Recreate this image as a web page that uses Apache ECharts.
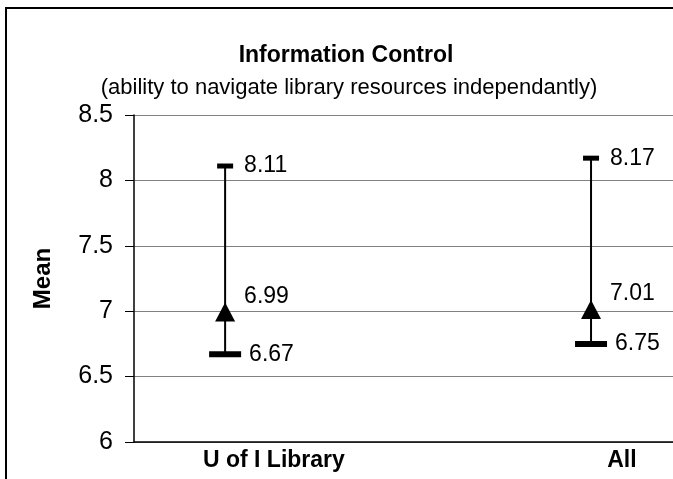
<!DOCTYPE html>
<html>
<head>
<meta charset="utf-8">
<script src="https://cdn.jsdelivr.net/npm/echarts@6/dist/echarts.min.js"></script>
<style>
  html, body { margin: 0; padding: 0; background: #fff; overflow: hidden; }
  #main { width: 673px; height: 479px; }
</style>
</head>
<body>
<div id="main"></div>
<script>
// categories and values
var categories = ['U of I Library', 'All']
var lowValues = [6.67, 6.75]
var highValues = [8.11, 8.17]
var meanValues = [6.99, 7.01]
var yTicks = { min: 6, max: 8.5, interval: 0.5 }

var font = '"Liberation Sans", Arial, sans-serif'

var rows = categories.map(function (c, i) {
  return [i, lowValues[i], highValues[i], meanValues[i]]
})

var myChart = echarts.init(document.getElementById('main'))

var option = {
  animation: false,
  backgroundColor: '#fff',
  graphic: [
    {
      type: 'rect',
      shape: { x: 6, y: 8, width: 800, height: 600 },
      style: { fill: 'none', stroke: '#000', lineWidth: 2 },
      z: -1,
    },
  ],
  title: [
    {
      text: 'Information Control',
      left: 341,
      top: 39,
      textAlign: 'center',
      textStyle: { fontFamily: font, fontSize: 23, fontWeight: 'bold', color: '#000' },
    },
    {
      text: '(ability to navigate library resources independantly)',
      left: 344,
      top: 72,
      textAlign: 'center',
      textStyle: { fontFamily: font, fontSize: 22, fontWeight: 'normal', color: '#000' },
    },
  ],
  grid: { left: 134, top: 115, right: 0, bottom: 37 },
  xAxis: [
    {
      // positions of the marks
      type: 'value',
      min: -0.249,
      max: 1.224,
      show: false,
    },
    {
      // category labels
      type: 'value',
      min: -0.402,
      max: 1.147,
      position: 'bottom',
      axisLine: { show: true, onZero: false, lineStyle: { color: '#000', width: 1.5 } },
      axisTick: { show: false },
      splitLine: { show: false },
      axisLabel: {
        customValues: [0, 1],
        formatter: function (v) {
          return categories[Math.round(v)]
        },
        margin: 7,
        color: '#000',
        fontFamily: font,
        fontSize: 23,
        fontWeight: 'bold',
      },
    },
  ],
  yAxis: {
    type: 'value',
    min: yTicks.min,
    max: yTicks.max,
    interval: yTicks.interval,
    name: 'Mean',
    nameLocation: 'middle',
    nameGap: 79,
    nameTextStyle: { fontFamily: font, fontSize: 24, fontWeight: 'bold', color: '#000' },
    axisLine: { show: true, onZero: false, lineStyle: { color: '#000', width: 1.5 } },
    axisTick: { show: true, length: 9, lineStyle: { color: '#000' } },
    axisLabel: { margin: 21, color: '#000', fontFamily: font, fontSize: 25 },
    splitLine: { show: true, lineStyle: { color: '#808080', width: 1.2 } },
  },
  series: [
    {
      type: 'custom',
      xAxisIndex: 0,
      encode: { x: 0, y: [1, 2, 3] },
      data: rows,
      renderItem: function (params, api) {
        var x = api.value(0)
        var low = api.value(1)
        var high = api.value(2)
        var mean = api.value(3)
        var pH = api.coord([x, high])
        var pL = api.coord([x, low])
        var pM = api.coord([x, mean])
        var txt = function (s, px, py) {
          return {
            type: 'text',
            x: px,
            y: py,
            style: {
              text: s,
              fill: '#000',
              fontFamily: font,
              fontSize: 23,
              align: 'left',
              verticalAlign: 'middle',
            },
          }
        }
        return {
          type: 'group',
          children: [
            {
              type: 'line',
              shape: { x1: pH[0], y1: pH[1], x2: pL[0], y2: pL[1] },
              style: { stroke: '#000', lineWidth: 2 },
            },
            {
              type: 'rect',
              shape: { x: pH[0] - 8, y: pH[1] - 2.5, width: 16, height: 5 },
              style: { fill: '#000' },
            },
            {
              type: 'rect',
              shape: { x: pL[0] - 16, y: pL[1] - 3, width: 32, height: 6 },
              style: { fill: '#000' },
            },
            {
              type: 'polygon',
              shape: {
                points: [
                  [pM[0], pM[1] - 10],
                  [pM[0] - 10, pM[1] + 9],
                  [pM[0] + 10, pM[1] + 9],
                ],
              },
              style: { fill: '#000' },
            },
            txt(high.toFixed(2), pH[0] + 19, pH[1]),
            txt(mean.toFixed(2), pM[0] + 19, pM[1] - 16),
            txt(low.toFixed(2), pL[0] + 24, pL[1]),
          ],
        }
      },
    },
  ],
}

myChart.setOption(option)
</script>
</body>
</html>
